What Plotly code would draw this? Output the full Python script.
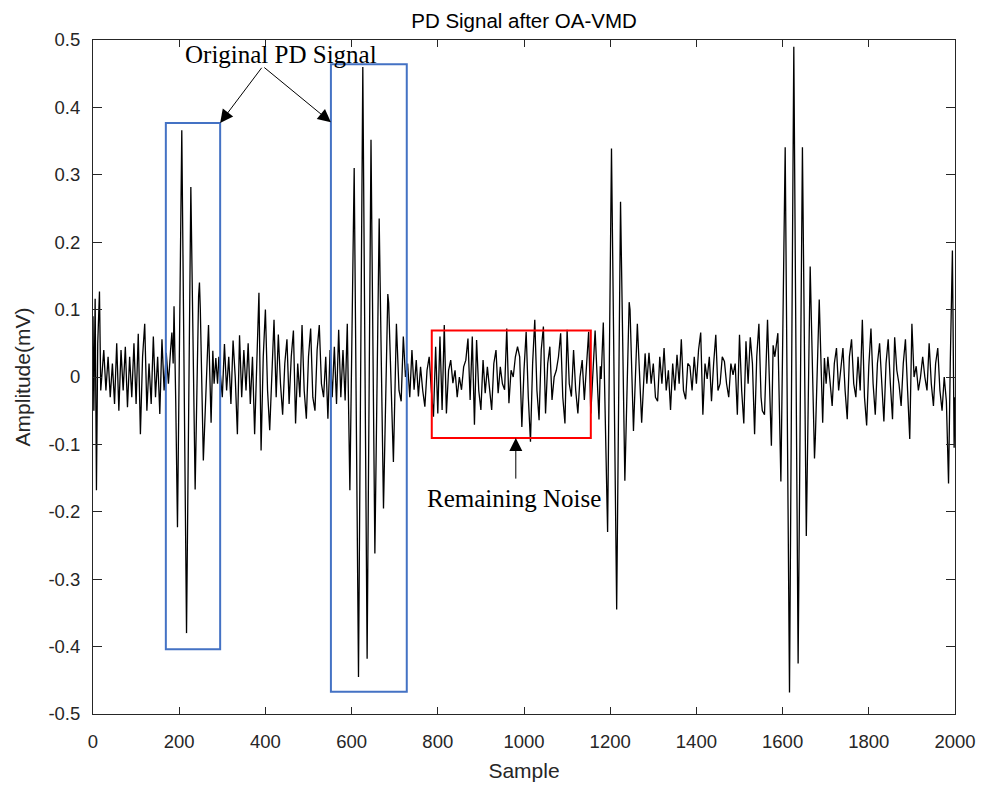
import plotly.graph_objects as go

# ---------------- data ----------------
NOISE_STEP = 5  # samples between noise vertices

start_x = [0, 2, 5, 8, 11, 15, 18]
start_y = [0.09, -0.05, 0.116, -0.168, 0.05, 0.127, -0.02]

noise1_start = 20
noise1 = [0.00, 0.04, -0.02, 0.03, -0.03, 0.02, -0.04, 0.05, -0.05, 0.04, -0.02, 0.045,
          -0.045, 0.03, -0.03, 0.05, -0.04, 0.064, -0.085, 0.03, 0.079, -0.05, 0.02, -0.04,
          0.06, -0.03, 0.03, -0.055, 0.056, -0.02, 0.036, -0.01, 0.04]

burst1_x = [183, 186, 188, 192, 196, 206, 217, 227, 237, 245, 247, 249, 252, 256, 268, 274,
            278, 281, 285, 289, 292]
burst1_y = [0.066, 0.02, 0.105, -0.038, -0.223, 0.366, -0.38, 0.282, -0.167, 0.12, 0.14, 0.10,
            -0.02, -0.124, 0.077, -0.068, 0.039, -0.01, 0.028, -0.01, 0.03]

noise2_start = 295
noise2 = [0.01, -0.03, 0.049, -0.02, 0.03, -0.04, 0.054, 0.0, -0.085, 0.062, -0.03, 0.04,
          -0.02, 0.05, -0.04, 0.03, -0.085, 0.02, 0.125, -0.109, 0.03, 0.10, -0.02, -0.079,
          0.02, 0.085, -0.03, 0.063, -0.01, -0.056, 0.02, 0.056, -0.04, 0.03, 0.069, -0.069,
          0.02, -0.03, 0.077, -0.02, -0.062, 0.03, 0.072, -0.03, -0.05, 0.04, 0.077, -0.01,
          -0.03, 0.03, -0.062, 0.04, -0.03, 0.045, -0.04, 0.07, -0.03, 0.04, -0.035, 0.079]

burst2_x = [596, 606, 616, 626, 636, 645, 654, 664, 674, 684, 686, 697, 704, 710, 715, 720, 725]
burst2_y = [-0.168, 0.31, -0.445, 0.46, -0.418, 0.352, -0.262, 0.235, -0.195, 0.123, 0.11,
            -0.126, 0.079, -0.02, -0.036, 0.06, 0.0]

noise3_start = 730
noise3 = [0.02, -0.03, 0.040, -0.019, 0.025, -0.029, 0.015, -0.02, -0.044, 0.01, 0.030, -0.02,
          -0.059, 0.045, -0.054, 0.060, -0.049, 0.077, -0.054, 0.01, 0.025, -0.009, 0.01, -0.03,
          0.0, -0.019, 0.015, 0.025, 0.057, -0.034, 0.06, -0.071, 0.055, -0.02, -0.049, 0.025,
          -0.024, 0.015, -0.02, -0.049, 0.02, 0.040, -0.024, 0.015, -0.01, -0.019, 0.072, -0.039,
          0.01, 0.0, 0.03, 0.045, 0.03, -0.074, 0.01, 0.067, -0.03, -0.096, 0.02, 0.085, -0.02,
          -0.064, 0.04, 0.075, -0.054, 0.02, 0.045, -0.034, 0.0, 0.01, 0.03, 0.065, -0.03, -0.069,
          0.07, -0.01, -0.029, 0.04, -0.02, -0.054, 0.0, 0.025, -0.034, 0.02, 0.067, -0.054, 0.02]

burst3_x = [1165, 1174, 1177, 1179, 1184, 1194, 1203, 1215, 1224, 1234, 1244, 1246, 1254, 1263,
            1273, 1281, 1285]
burst3_y = [0.069, -0.063, 0.016, -0.003, 0.081, -0.23, 0.339, -0.345, 0.26, -0.154, 0.111, 0.10,
            -0.08, 0.079, -0.068, 0.035, -0.01]

noise4_start = 1290
noise4 = [0.036, -0.01, 0.02, -0.03, -0.036, 0.03, -0.01, 0.043, -0.02, 0.01, -0.049, 0.02,
          -0.02, 0.033, -0.01, 0.056, -0.02, -0.033, 0.02, 0.016, -0.02, 0.03, -0.01, 0.04,
          0.066, -0.056, 0.02, -0.003, 0.03, -0.036, 0.02, 0.0625, -0.02, -0.01, 0.03, 0.023,
          -0.01, -0.03, 0.02, 0.003, 0.02, -0.056, 0.0625, -0.02, -0.069, 0.053, -0.01, 0.059,
          0.02, -0.085, 0.03, 0.079, -0.03]

burst4_x = [1553, 1558, 1565, 1574, 1578, 1582, 1589, 1596, 1606, 1616, 1626, 1636, 1646, 1655,
            1664, 1674, 1676, 1685, 1693, 1697, 1701]
burst4_y = [-0.05, -0.056, 0.085, -0.102, 0.047, 0.03, 0.065, -0.155, 0.341, -0.468, 0.49,
            -0.425, 0.341, -0.236, 0.164, -0.121, -0.09, 0.115, -0.068, 0.028, -0.01]

noise5_start = 1705
noise5 = [0.03, -0.01, -0.043, 0.02, 0.043, -0.02, 0.01, 0.043, -0.02, -0.0625, 0.03, 0.056,
          -0.01, -0.03, 0.03, -0.02, 0.085, -0.03, -0.072, 0.016, 0.072, -0.01, -0.056, 0.02,
          0.05, -0.02, -0.066, 0.02, 0.056, -0.01, -0.0625, 0.059, 0.01, -0.01, -0.043, 0.02,
          0.056, -0.02, -0.092, 0.079, 0.0, 0.016, -0.02, 0.0, 0.03, 0.0, -0.02, 0.05, -0.01,
          -0.043, 0.02, 0.043, -0.02, -0.05, 0.0, -0.036]

end_x = [1985, 1989, 1994, 1998, 2000]
end_y = [-0.158, 0.02, 0.1875, -0.105, -0.03]

x_ticks = [0, 200, 400, 600, 800, 1000, 1200, 1400, 1600, 1800, 2000]
x_tick_text = ["0", "200", "400", "600", "800", "1000", "1200", "1400", "1600", "1800", "2000"]
y_ticks = [-0.5, -0.4, -0.3, -0.2, -0.1, 0, 0.1, 0.2, 0.3, 0.4, 0.5]
y_tick_text = ["-0.5", "-0.4", "-0.3", "-0.2", "-0.1", "0", "0.1", "0.2", "0.3", "0.4", "0.5"]

# boxes: (x0, x1, y0, y1)
pd_box1 = (169, 295, -0.404, 0.377)
pd_box2 = (552, 728, -0.467, 0.464)
noise_box = (786, 1155, -0.0905, 0.069)

# ---------------- assemble the trace ----------------
def noise_seg(start, vals):
    return [start + NOISE_STEP * i for i in range(len(vals))], list(vals)

pieces = [
    (start_x, start_y),
    noise_seg(noise1_start, noise1),
    (burst1_x, burst1_y),
    noise_seg(noise2_start, noise2),
    (burst2_x, burst2_y),
    noise_seg(noise3_start, noise3),
    (burst3_x, burst3_y),
    noise_seg(noise4_start, noise4),
    (burst4_x, burst4_y),
    noise_seg(noise5_start, noise5),
    (end_x, end_y),
]
xs, ys = [], []
for px, py in pieces:
    xs.extend(px)
    ys.extend(py)
order = sorted(range(len(xs)), key=lambda i: xs[i])
xs = [xs[i] for i in order]
ys = [ys[i] for i in order]

fig = go.Figure()
fig.add_trace(go.Scatter(x=xs, y=ys, mode="lines",
                         line=dict(color="black", width=1.3), showlegend=False,
                         hoverinfo="skip"))

BLUE = "#4472C4"
RED = "#FF0000"
for (x0, x1, y0, y1), col in [(pd_box1, BLUE), (pd_box2, BLUE), (noise_box, RED)]:
    fig.add_shape(type="rect", xref="x", yref="y", x0=x0, x1=x1, y0=y0, y1=y1,
                  line=dict(color=col, width=2), fillcolor="rgba(0,0,0,0)")

serif = dict(family="Liberation Serif, Times New Roman, serif", size=25, color="black")

# "Original PD Signal" text and its two arrows
fig.add_annotation(x=436, y=0.479, xref="x", yref="y", text="Original PD Signal",
                   showarrow=False, font=serif)
for tip_x, tip_y in [(pd_box1[1], pd_box1[3]), (pd_box2[0], 0.378)]:
    fig.add_annotation(x=tip_x, y=tip_y, ax=394, ay=0.461, xref="x", yref="y",
                       axref="x", ayref="y", text="", showarrow=True,
                       arrowhead=2, arrowsize=2.6, arrowwidth=1, arrowcolor="black",
                       standoff=0)

# "Remaining Noise" text and arrow
fig.add_annotation(x=977, y=-0.181, xref="x", yref="y", text="Remaining Noise",
                   showarrow=False, font=serif)
fig.add_annotation(x=981, y=noise_box[2], ax=981, ay=-0.153, xref="x", yref="y",
                   axref="x", ayref="y", text="", showarrow=True,
                   arrowhead=2, arrowsize=2.6, arrowwidth=1, arrowcolor="black", standoff=0)

sans = "Liberation Sans, Arial, Helvetica, sans-serif"
axis_common = dict(showline=True, linecolor="#262626", linewidth=1, mirror="ticks",
                   ticks="inside", tickcolor="#262626", showgrid=False, zeroline=False,
                   automargin=False,
                   tickfont=dict(family=sans, size=18.5, color="#262626"))

fig.update_layout(
    width=990, height=787,
    margin=dict(l=93, r=35, t=40, b=73),
    paper_bgcolor="white", plot_bgcolor="white",
    title=dict(text="PD Signal after OA-VMD", x=0.5, xref="paper", xanchor="center",
               y=0.973, yref="container", yanchor="middle",
               font=dict(family=sans, size=20.5, color="black")),
    xaxis=dict(range=[0, 2000], tickvals=x_ticks, ticktext=x_tick_text, ticklen=7,
               title=dict(text="Sample", font=dict(family=sans, size=21, color="#262626"),
                          standoff=12),
               ticklabelstandoff=11, **axis_common),
    yaxis=dict(range=[-0.5, 0.5], tickvals=y_ticks, ticktext=y_tick_text, ticklen=9,
               title=dict(text="Amplitude(mV)", font=dict(family=sans, size=21, color="#262626"),
                          standoff=12),
               ticklabelstandoff=8, **axis_common),
)

fig.write_html("out.html")
